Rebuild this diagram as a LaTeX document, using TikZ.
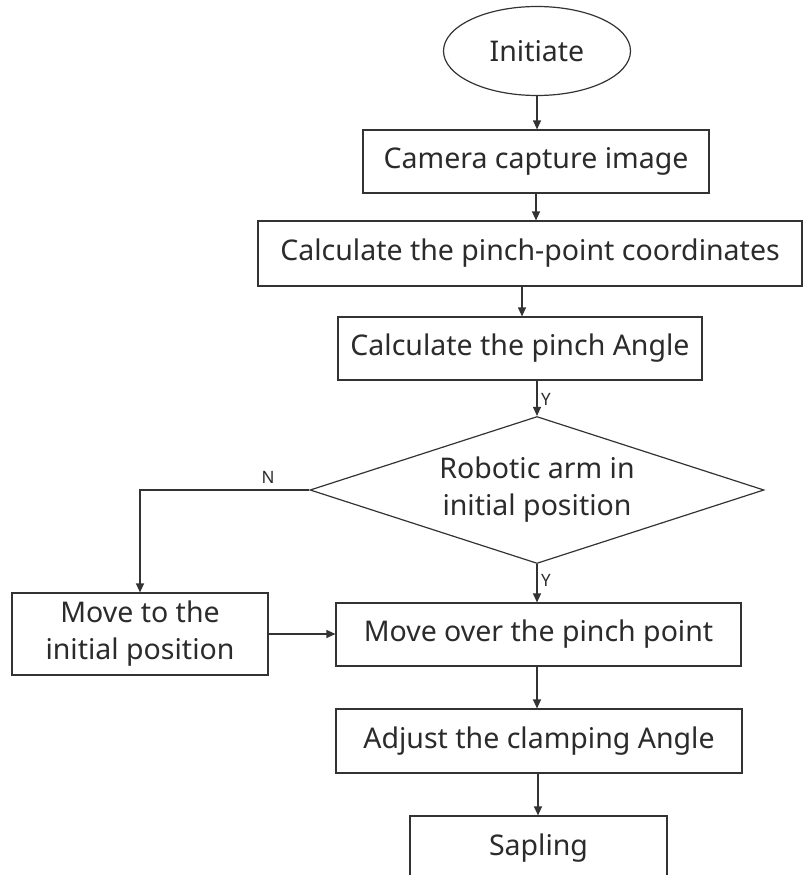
\documentclass[tikz,border=0pt]{standalone}
\usepackage{fontspec}
\setmainfont{Noto Sans}
\usetikzlibrary{shapes.geometric,arrows.meta}
\definecolor{ln}{HTML}{333333}
\definecolor{tx}{HTML}{2b2b2b}
\begin{document}
\begin{tikzpicture}[x=1pt,y=-1pt,
  box/.style={draw=ln,line width=1.2pt,rectangle,inner sep=0pt,align=center,text=tx,font=\fontsize{28.5}{37}\selectfont},
  arr/.style={draw=ln,line width=1.2pt,-{Triangle[length=9pt,width=8pt]}},
  lbl/.style={text=tx,font=\fontsize{17}{20}\selectfont,inner sep=0pt}]
\useasboundingbox (0,0) rectangle (803,875);
\node[box,ellipse,minimum width=187pt,minimum height=89pt] (start) at (537,51) {Initiate};
\node[box,minimum width=346pt,minimum height=63pt] (camera) at (536,161.5) {Camera capture image};
\node[box,minimum width=544pt,minimum height=65pt] (coord) at (530,253.5) {Calculate the pinch-point coordinates};
\node[box,minimum width=364pt,minimum height=63pt] (angle) at (520,348.5) {Calculate the pinch Angle};
\node[box,diamond,aspect=3.09,minimum width=454pt,minimum height=147pt] (dia) at (537,490) {Robotic arm in\\initial position};
\node[box,minimum width=256pt,minimum height=82pt] (moveinit) at (140,634) {Move to the\\initial position};
\node[box,minimum width=405pt,minimum height=63pt] (moveover) at (538.5,634.5) {Move over the pinch point};
\node[box,minimum width=406pt,minimum height=64pt] (adjust) at (539,741) {Adjust the clamping Angle};
\node[box,minimum width=257pt,minimum height=64pt] (sapling) at (538.5,848) {Sapling};
\coordinate (ncorner) at (140,490);
\draw[arr] (start.south) -- (start.south |- camera.north);
\draw[arr] (camera.south) -- (camera.south |- coord.north);
\draw[arr] ([xshift=2pt]angle.north |- coord.south) -- ([xshift=2pt]angle.north);
\draw[arr] (dia.north |- angle.south) -- (dia.north);
\draw[arr] (dia.west) -- (ncorner) -- (moveinit.north);
\draw[arr] (dia.south) -- (dia.south |- moveover.north);
\draw[arr] (moveinit.east) -- (moveinit.east -| moveover.west);
\draw[arr] ([xshift=-1.5pt]moveover.south) -- ([xshift=-1.5pt]moveover.south |- adjust.north);
\draw[arr] ([xshift=-1pt]adjust.south) -- ([xshift=-1pt]adjust.south |- sapling.north);
\node[lbl] (y1) at (546,399) {Y};
\node[lbl] (y2) at (546,580) {Y};
\node[lbl] (n1) at (268,477) {N};
\end{tikzpicture}
\end{document}
